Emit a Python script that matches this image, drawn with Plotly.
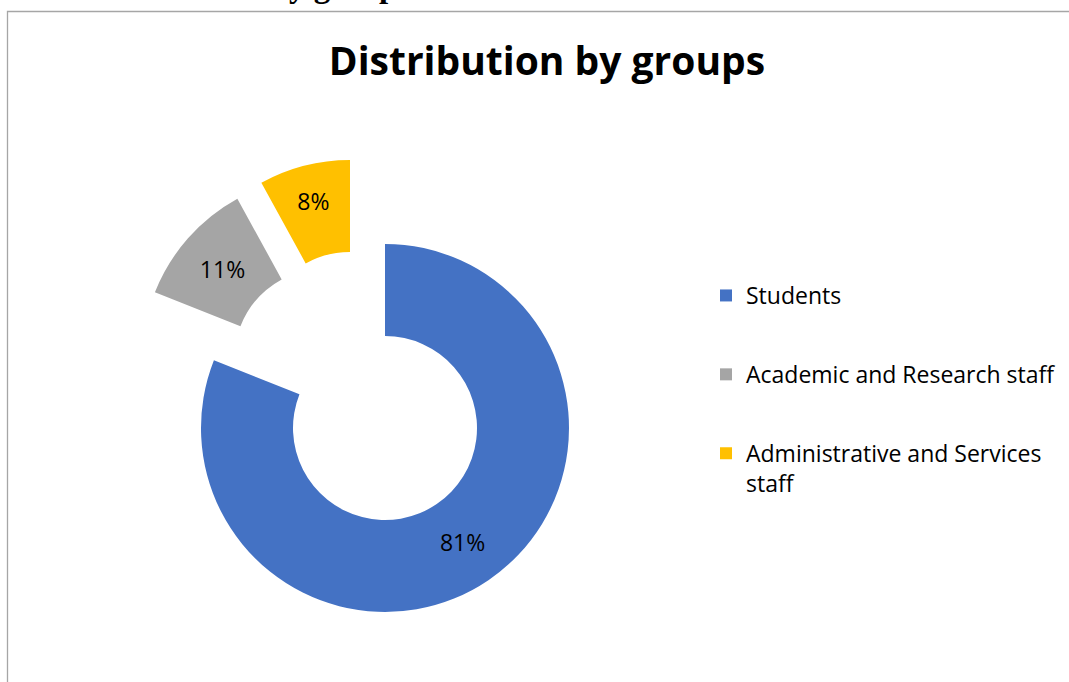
import plotly.graph_objects as go

# ---- data -------------------------------------------------------------
groups = ["Students", "Academic and Research staff", "Administrative and Services<br>staff"]
shares = [81, 11, 8]
colors = ["#4472C4", "#A5A5A5", "#FFC000"]

# ---- canvas / geometry ---------------------------------------------------
W, H = 1069, 682
CX, CY, R = 385, 428, 184          # donut centre and outer radius (px)
HOLE = 0.5
# exploded offsets of each slice (px)
offsets = [(0, 0), (-59, -68), (-35, -84)]

FONT = "Open Sans"


def domain_for(cx, cy, r):
    return dict(x=[(cx - r) / W, (cx + r) / W],
                y=[1 - (cy + r) / H, 1 - (cy - r) / H])


fig = go.Figure()

# legend entries (tiny pies hidden under the ring, one group each so that
# the legend items can be spaced apart)
for i, (g, v, c) in enumerate(zip(groups, shares, colors)):
    fig.add_trace(go.Pie(
        labels=[g], values=[v], marker=dict(colors=[c]),
        domain=domain_for(520, 430, 0.5), textinfo="none",
        hoverinfo="skip", legendgroup=f"g{i}", showlegend=True, sort=False,
    ))

# one pie per slice so every slice can be exploded independently
for i, (dx, dy) in enumerate(offsets):
    slice_colors = [c if j == i else "rgba(0,0,0,0)" for j, c in enumerate(colors)]
    templates = ["%{percent:.0%}" if j == i else "" for j in range(len(shares))]
    fig.add_trace(go.Pie(
        labels=groups, values=shares, sort=False, direction="clockwise",
        rotation=0, hole=HOLE,
        marker=dict(colors=slice_colors, line=dict(width=0)),
        texttemplate=templates, textposition="inside",
        insidetextorientation="horizontal",
        textfont=dict(family=FONT, size=23, color="#000000"),
        domain=domain_for(CX + dx, CY + dy, R),
        showlegend=False, hoverinfo="label+percent",
    ))

fig.update_layout(
    width=W, height=H,
    margin=dict(l=0, r=0, t=0, b=0, pad=0),
    paper_bgcolor="white", plot_bgcolor="white",
    title=dict(text="<b>Distribution by groups</b>", x=547 / W, xanchor="center",
               y=1 - 61 / H, yanchor="middle", yref="container",
               font=dict(family=FONT, size=39, color="#000000")),
    legend=dict(x=706 / W, xanchor="left", y=1 - 274 / H, yanchor="top",
                font=dict(family=FONT, size=23, color="#000000"),
                tracegroupgap=46, valign="top", itemwidth=30,
                bgcolor="rgba(0,0,0,0)"),
    shapes=[dict(type="rect", xref="paper", yref="paper",
                 x0=7.5 / W, x1=1.02, y0=-0.02, y1=1 - 11.5 / H,
                 line=dict(color="#A6A6A6", width=1.3), fillcolor="rgba(0,0,0,0)",
                 layer="below")],
    annotations=[dict(text="<b>Distribution by groups</b>", xref="paper", yref="paper",
                      x=412 / W, xanchor="right", y=1, yanchor="bottom", yshift=-6,
                      showarrow=False,
                      font=dict(family="Liberation Serif", size=33, color="#000000"))],
)

fig.write_html("out.html")
